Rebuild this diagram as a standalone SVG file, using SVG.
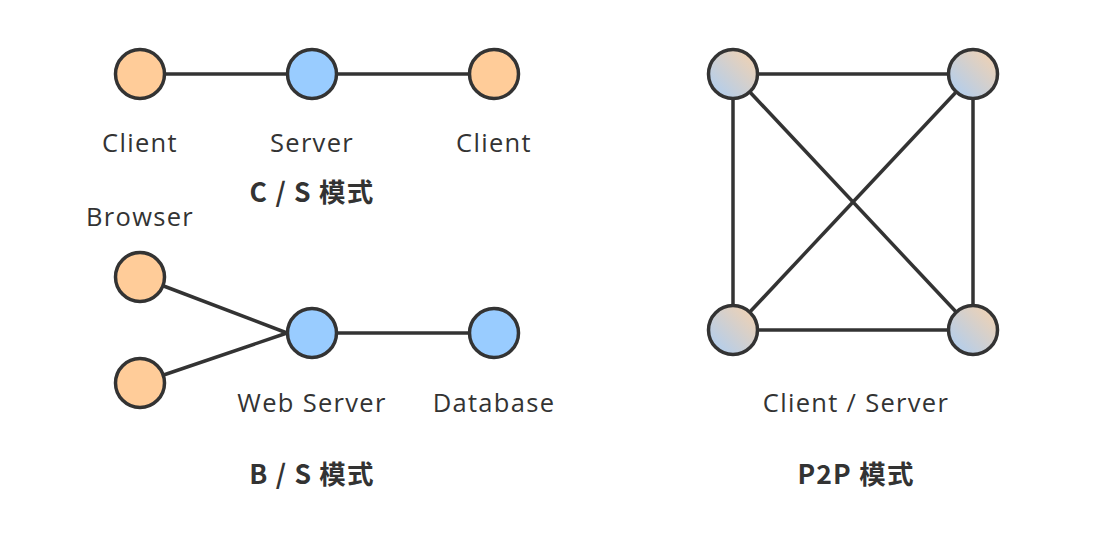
<svg xmlns="http://www.w3.org/2000/svg" width="1096" height="548" viewBox="0 0 1096 548">
<style>
.n{stroke:#333;stroke-width:3.5}
.c{fill:#ffcc99}
.s{fill:#99ccff}
.p{fill:url(#g)}
.l{fill:#333;font-family:"Open Sans","Noto Sans",sans-serif;font-size:25.5px;letter-spacing:1.3px;text-anchor:middle}
.t{fill:#333;font-family:"Noto Sans CJK SC","Noto Sans",sans-serif;font-size:26.5px;letter-spacing:1.2px;font-weight:bold;text-anchor:middle}
#edges line{stroke:#333;stroke-width:3.5}
</style>
<defs>
<linearGradient id="g" x1="0" y1="1" x2="1" y2="0">
<stop offset="0" stop-color="#a9cdf5"/>
<stop offset="1" stop-color="#f7d2ac"/>
</linearGradient>
</defs>
<rect width="1096" height="548" fill="#fff"/>
<g id="edges">
<line x1="140" y1="74" x2="312" y2="74"/>
<line x1="312" y1="74" x2="494" y2="74"/>
<line x1="140" y1="277" x2="287" y2="333"/>
<line x1="140" y1="383" x2="287" y2="333"/>
<line x1="312" y1="333" x2="494" y2="333"/>
<line x1="733" y1="74" x2="973" y2="74"/>
<line x1="733" y1="74" x2="733" y2="330"/>
<line x1="973" y1="74" x2="973" y2="330"/>
<line x1="733" y1="330" x2="973" y2="330"/>
<line x1="733" y1="74" x2="973" y2="330"/>
<line x1="973" y1="74" x2="733" y2="330"/>
</g>
<g id="cs-client1"><circle class="n c" cx="140" cy="74" r="24.5"/><text class="l" x="140" y="152">Client</text></g>
<g id="cs-server"><circle class="n s" cx="312" cy="74" r="24.5"/><text class="l" x="312" y="152">Server</text></g>
<g id="cs-client2"><circle class="n c" cx="494" cy="74" r="24.5"/><text class="l" x="494" y="152">Client</text></g>
<g id="cs-title"><text class="t" x="312" y="202">C / S 模式</text></g>
<g id="bs-browser1"><circle class="n c" cx="140" cy="277" r="24.5"/><text class="l" x="140" y="226">Browser</text></g>
<g id="bs-browser2"><circle class="n c" cx="140" cy="383" r="24.5"/></g>
<g id="bs-webserver"><circle class="n s" cx="312" cy="333" r="24.5"/><text class="l" x="312" y="412">Web Server</text></g>
<g id="bs-database"><circle class="n s" cx="494" cy="333" r="24.5"/><text class="l" x="494" y="412">Database</text></g>
<g id="bs-title"><text class="t" x="312" y="484">B / S 模式</text></g>
<g id="p2p-tl"><circle class="n p" cx="733" cy="74" r="24.5"/></g>
<g id="p2p-tr"><circle class="n p" cx="973" cy="74" r="24.5"/></g>
<g id="p2p-bl"><circle class="n p" cx="733" cy="330" r="24.5"/></g>
<g id="p2p-br"><circle class="n p" cx="973" cy="330" r="24.5"/></g>
<g id="p2p-label"><text class="l" x="856" y="412">Client / Server</text></g>
<g id="p2p-title"><text class="t" x="856" y="484">P2P 模式</text></g>
</svg>
